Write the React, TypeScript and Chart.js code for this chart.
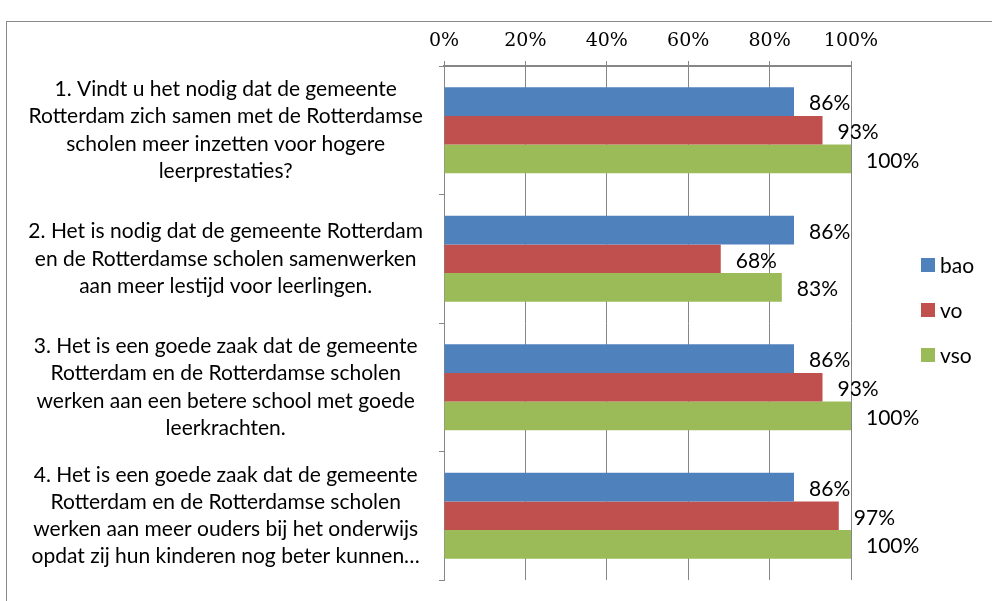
import React, { useEffect, useRef } from "react";
import { Chart, registerables } from "chart.js";
Chart.register(...registerables);

const categories: string[][] = [
  ["1. Vindt u het nodig dat de gemeente", "Rotterdam zich samen met de Rotterdamse", "scholen meer inzetten voor hogere", "leerprestaties?"],
  ["2. Het is nodig dat de gemeente Rotterdam", "en de Rotterdamse scholen samenwerken", "aan meer lestijd voor leerlingen."],
  ["3. Het is een goede zaak dat de gemeente", "Rotterdam en de Rotterdamse scholen", "werken aan een betere school met goede", "leerkrachten."],
  ["4. Het is een goede zaak dat de gemeente", "Rotterdam en de Rotterdamse scholen", "werken aan meer ouders bij het onderwijs", "opdat zij hun kinderen nog beter kunnen…"],
];
const seriesNames = ["bao", "vo", "vso"];
const baoValues = [86, 86, 86, 86];
const voValues = [93, 68, 93, 97];
const vsoValues = [100, 83, 100, 100];
const seriesColors = ["#4F81BD", "#C0504D", "#9BBB59"];
const axisMin = 0;
const axisMax = 100;
const axisStep = 20;

const SANS = "Lato, 'Open Sans', sans-serif";
const SERIF = "'DejaVu Serif', serif";

const valueLabels = {
  id: "valueLabels",
  afterDatasetsDraw(chart: any) {
    const ctx = chart.ctx;
    ctx.save();
    ctx.font = `21px ${SANS}`;
    ctx.fillStyle = "#000";
    ctx.textAlign = "left";
    ctx.textBaseline = "middle";
    chart.data.datasets.forEach((ds: any, i: number) => {
      const meta = chart.getDatasetMeta(i);
      meta.data.forEach((bar: any, j: number) => {
        ctx.fillText(ds.data[j] + "%", bar.x + 15, bar.y + 2);
      });
    });
    ctx.restore();
  },
};

const sideLegend = {
  id: "sideLegend",
  afterDraw(chart: any) {
    const ctx = chart.ctx;
    ctx.save();
    ctx.font = `21px ${SANS}`;
    ctx.textAlign = "left";
    ctx.textBaseline = "middle";
    chart.data.datasets.forEach((ds: any, i: number) => {
      const y = 265 + i * 45;
      ctx.fillStyle = ds.backgroundColor;
      ctx.fillRect(921, y - 7, 14, 14);
      ctx.fillStyle = "#000";
      ctx.fillText(ds.label, 940, y + 1);
    });
    ctx.restore();
  },
};

export default function App() {
  const ref = useRef<HTMLCanvasElement>(null);
  useEffect(() => {
    if (!ref.current) return;
    const values = [baoValues, voValues, vsoValues];
    const chart = new Chart(ref.current, {
      type: "bar",
      data: {
        labels: categories,
        datasets: seriesNames.map((name, i) => ({
          label: name,
          data: values[i],
          backgroundColor: seriesColors[i],
          borderWidth: 0,
          categoryPercentage: 0.67,
          barPercentage: 1,
        })),
      },
      options: {
        indexAxis: "y",
        animation: false,
        responsive: false,
        layout: { padding: { left: 10, right: 141, top: 0, bottom: 21 } },
        plugins: { legend: { display: false }, tooltip: { enabled: false } },
        scales: {
          x: {
            type: "linear",
            position: "top",
            min: axisMin,
            max: axisMax,
            ticks: {
              stepSize: axisStep,
              callback: (v: any) => v + "%",
              font: { family: SERIF, size: 19 },
              color: "#000",
              padding: 9,
            },
            grid: { color: "#868686", lineWidth: 1, tickLength: 5 },
            border: { color: "#868686", width: 2 },
            afterFit: (s: any) => { s.height = 66; s.paddingLeft = 0; s.paddingRight = 0; },
          },
          y: {
            type: "category",
            ticks: {
              font: { family: SANS, size: 21, lineHeight: 1.29 },
              color: "#000",
              crossAlign: "center",
              padding: 16,
            },
            grid: { drawOnChartArea: false, tickLength: 5, color: "#868686", offset: true },
            border: { color: "#868686", width: 1 },
            afterFit: (s: any) => { s.width = 434; s.paddingTop = 0; s.paddingBottom = 0; },
          },
        },
      } as any,
      plugins: [valueLabels, sideLegend],
    });
    return () => chart.destroy();
  }, []);
  return (
    <div style={{ position: "fixed", left: 0, top: 0, width: 992, height: 601, overflow: "hidden", background: "#fff" }}>
      <div style={{ position: "absolute", left: 6, top: 21, width: 1100, height: 800, border: "1px solid #8a8a8a" }} />
      <canvas ref={ref} width={992} height={601} style={{ position: "absolute", left: 0, top: 0 }} />
    </div>
  );
}
